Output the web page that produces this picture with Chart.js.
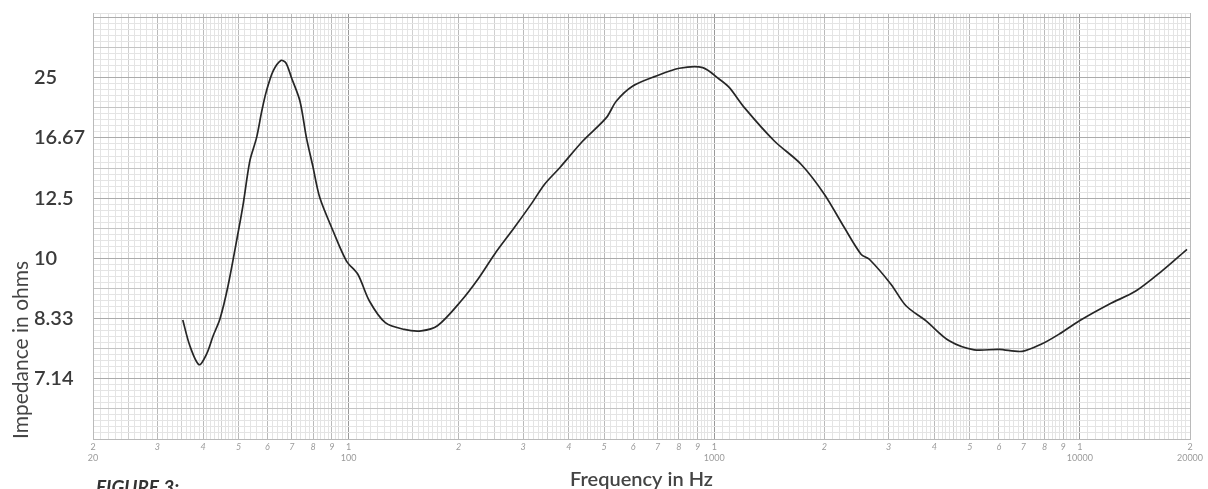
<!DOCTYPE html>
<html>
<head>
<meta charset="utf-8">
<script src="https://cdn.jsdelivr.net/npm/chart.js@4.4.1/dist/chart.umd.min.js"></script>
<style>
  html, body { margin: 0; padding: 0; background: #fff; }
</style>
</head>
<body>
<canvas id="impedanceChart" width="1208" height="489"></canvas>
<script>
// impedance curve
const freqHz = [35.2, 36.8, 39.0, 40.9, 42.6, 44.5, 46.8, 49.4, 51.4, 53.7, 56.0, 57.9, 59.6, 62.2, 65.3, 67.4,
  69.8, 73.6, 76.7, 79.8, 83.4, 90.7, 98.7, 106, 114, 126, 142, 158, 175, 203, 226, 251, 284, 316, 344, 378,
  437, 507, 540, 599, 694, 803, 930, 1033, 1100, 1209, 1460, 1727, 2000, 2268, 2520, 2655, 3042, 3344, 3794,
  4391, 5138, 6014, 6950, 7881, 8772, 9948, 12016, 14216, 16772, 19626];
const impedanceOhms = [8.30, 7.75, 7.39, 7.59, 7.95, 8.33, 9.16, 10.62, 12.11, 14.79, 16.67, 19.6, 22.5, 26.5, 29.2, 28.5,
  25.0, 20.96, 16.67, 14.43, 12.53, 11.0, 9.91, 9.50, 8.76, 8.24, 8.09, 8.06, 8.17, 8.76, 9.36, 10.15, 11.14, 12.21, 13.28, 14.31,
  16.39, 18.78, 20.96, 23.41, 25.38, 27.14, 27.29, 24.69, 23.1, 20.03, 16.39, 14.55, 12.71, 11.14, 10.14, 9.97, 9.21, 8.64, 8.28,
  7.85, 7.67, 7.68, 7.64, 7.79, 7.99, 8.28, 8.68, 9.02, 9.60, 10.31];

// y axis is linear in 100/Z, labelled in ohms
const impedanceTicks = [25, 16.67, 12.5, 10, 8.33, 7.14];

const freqTickValues = [20, 30, 40, 50, 60, 70, 80, 90,
  100, 200, 300, 400, 500, 600, 700, 800, 900,
  1000, 2000, 3000, 4000, 5000, 6000, 7000, 8000, 9000,
  10000, 20000];
const freqTickLabels = [['2', '20'], '3', '4', '5', '6', '7', '8', '9',
  ['1', '100'], '2', '3', '4', '5', '6', '7', '8', '9',
  ['1', '1000'], '2', '3', '4', '5', '6', '7', '8', '9',
  ['1', '10000'], ['2', '20000']];

function mantissa(v) {
  const dec = Math.pow(10, Math.floor(Math.log10(v) + 1e-9));
  return Math.round(v / dec * 100) / 100;
}

// fine lines of the log paper
function logPaperTicks() {
  const out = [];
  [10, 100, 1000, 10000].forEach(dec => {
    for (let k = 100; k < 1000;) {
      const v = dec * k / 100;
      if (v >= 20 && v <= 20000) out.push({ value: v });
      k += k < 200 ? 5 : (k < 500 ? 10 : 20);
    }
  });
  return out;
}

const figureCaption = {
  id: 'figureCaption',
  afterDraw(chart) {
    const c = chart.ctx;
    c.save();
    c.font = 'italic bold 19px Lato, sans-serif';
    c.fillStyle = '#333';
    c.textBaseline = 'alphabetic';
    c.fillText('FIGURE 3:', 96, 494);
    c.restore();
  }
};

const ctx = document.getElementById('impedanceChart').getContext('2d');
new Chart(ctx, {
  type: 'line',
  data: {
    datasets: [{
      label: 'Impedance',
      data: freqHz.map((f, i) => ({ x: f, y: 100 / impedanceOhms[i] })),
      xAxisID: 'x',
      yAxisID: 'y',
      borderColor: '#262626',
      borderWidth: 1.7,
      pointRadius: 0,
      tension: 0.3,
      fill: false
    }]
  },
  options: {
    responsive: false,
    devicePixelRatio: 1,
    animation: false,
    layout: { padding: { top: 13, right: 18, left: 0, bottom: 0 } },
    plugins: { legend: { display: false }, tooltip: { enabled: false } },
    scales: {
      x: {
        type: 'logarithmic',
        min: 20,
        max: 20000,
        afterBuildTicks: axis => { axis.ticks = logPaperTicks(); },
        afterFit: s => { s.height = 50; },
        ticks: {
          autoSkip: false,
          maxRotation: 0,
          minRotation: 0,
          padding: 3,
          color: '#9b9b9b',
          font: c => ({
            family: 'Lato',
            size: 9,
            lineHeight: 1.2,
            style: Array.isArray(c.tick && c.tick.label) ? 'normal' : 'italic'
          }),
          callback: value => {
            const i = freqTickValues.findIndex(f => Math.abs(f - value) / f < 1e-6);
            return i >= 0 ? freqTickLabels[i] : '';
          }
        },
        grid: {
          drawTicks: false,
          lineWidth: 1,
          color: c => {
            const m = mantissa(c.tick.value);
            if (m === 1) return '#999';
            if (Number.isInteger(m)) return '#bababa';
            if (Number.isInteger(m * 2) && m < 5) return '#d0d0d0';
            return '#e4e4e4';
          }
        },
        border: { color: '#bababa' },
        title: {
          display: true,
          text: 'Frequency in Hz',
          color: '#444',
          font: { family: 'Lato', size: 20, weight: '600' },
          padding: { top: 0, bottom: -3 }
        }
      },
      y: {
        type: 'linear',
        position: 'left',
        reverse: true,
        min: 1.85,
        max: 16,
        weight: 0,
        afterBuildTicks: axis => {
          const t = [{ value: 1.85 }];
          for (let i = 10; i <= 80; i++) t.push({ value: i / 5 });
          axis.ticks = t;
        },
        afterFit: s => { s.width = 59; },
        ticks: {
          autoSkip: false,
          crossAlign: 'far',
          padding: 0,
          color: '#3a3a3a',
          font: { family: 'Lato', size: 20, weight: '600' },
          callback: value => {
            const i = impedanceTicks.findIndex(z => Math.abs(100 / z - value) < 0.02);
            return i >= 0 ? String(impedanceTicks[i]) : '';
          }
        },
        grid: {
          drawTicks: false,
          lineWidth: 1,
          color: c => {
            const v = c.tick.value;
            if (Math.abs(v - Math.round(v)) < 1e-6) {
              return Math.round(v) % 2 === 0 ? '#ababab' : '#c4c4c4';
            }
            return '#e4e4e4';
          }
        },
        border: { color: '#bababa' }
      },
      yTitle: {
        type: 'linear',
        position: 'left',
        weight: 1,
        afterFit: s => { s.width = 34; },
        ticks: { display: false },
        grid: { display: false, drawTicks: false },
        border: { display: false },
        title: {
          display: true,
          text: 'Impedance in ohms',
          align: 'start',
          color: '#444',
          font: { family: 'Lato', size: 21 },
          padding: { top: 9, bottom: 0 }
        }
      }
    }
  },
  plugins: [figureCaption]
});
</script>
</body>
</html>
